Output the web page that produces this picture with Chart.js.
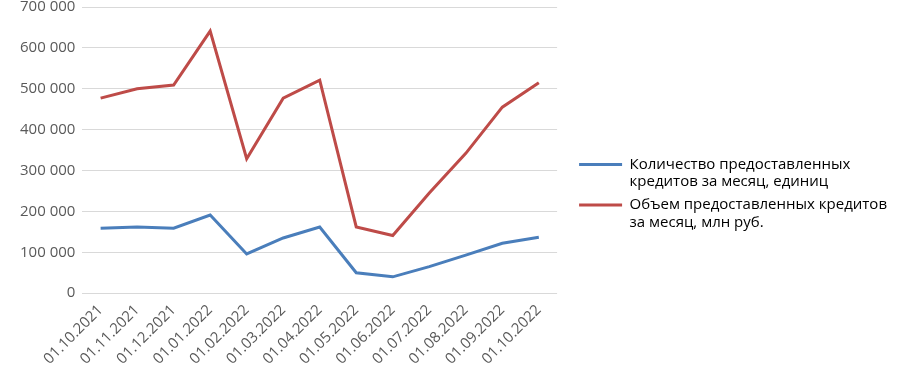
<!DOCTYPE html>
<html>
<head>
<meta charset="utf-8">
<script src="https://cdn.jsdelivr.net/npm/chart.js@4/dist/chart.umd.min.js"></script>
<style>
  html, body { margin: 0; padding: 0; background: #fff; }
  #wrap { width: 900px; height: 382px; }
</style>
</head>
<body>
<div id="wrap"><canvas id="credits-chart"></canvas></div>
<script>
// months
var months = ["01.10.2021", "01.11.2021", "01.12.2021", "01.01.2022", "01.02.2022", "01.03.2022", "01.04.2022",
    "01.05.2022", "01.06.2022", "01.07.2022", "01.08.2022", "01.09.2022", "01.10.2022"];

// количество кредитов, единиц
var countValues = [159000, 162000, 159000, 191000, 96000, 135000, 162000, 50000, 40000, 65000, 93000, 122000, 137000];
// объем кредитов, млн руб.
var volumeValues = [477000, 500000, 509000, 641000, 329000, 477000, 521000, 162000, 141000, 245000, 342000, 455000, 515000];

var countName = ["Количество предоставленных", "кредитов за месяц, единиц"];
var volumeName = ["Объем предоставленных кредитов", "за месяц, млн руб."];

var yTicks = [0, 100000, 200000, 300000, 400000, 500000, 600000, 700000];

function fmt(v) {
    return v.toString().replace(/\B(?=(\d{3})+(?!\d))/g, ' ');
}

Chart.defaults.font.family = "'Open Sans', 'Noto Sans', sans-serif";
Chart.defaults.color = '#595959';

new Chart(document.getElementById("credits-chart"), {
    type: 'line',
    data: {
        labels: months,
        datasets: [{
            label: countName.join(' '),
            data: countValues,
            borderColor: '#4A7EBB',
            backgroundColor: '#4A7EBB',
            borderWidth: 3,
            pointRadius: 0,
            tension: 0,
            fill: false
        }, {
            label: volumeName.join(' '),
            data: volumeValues,
            borderColor: '#BE4B48',
            backgroundColor: '#BE4B48',
            borderWidth: 3,
            pointRadius: 0,
            tension: 0,
            fill: false
        }]
    },
    options: {
        responsive: true,
        maintainAspectRatio: false,
        animation: false,
        layout: { padding: { left: 13, right: 3, top: 7, bottom: 0 } },
        plugins: {
            tooltip: { enabled: false },
            legend: {
                position: 'right',
                align: 'center',
                maxWidth: 340,
                labels: {
                    boxWidth: 43,
                    boxHeight: 3,
                    padding: 6,
                    font: { size: 15, lineHeight: 1.15 },
                    color: '#595959',
                    generateLabels: function (chart) {
                        var names = [countName, volumeName];
                        return chart.data.datasets.map(function (ds, i) {
                            return {
                                text: names[i],
                                fillStyle: ds.borderColor,
                                strokeStyle: ds.borderColor,
                                lineWidth: 0,
                                hidden: false,
                                datasetIndex: i
                            };
                        });
                    }
                }
            }
        },
        scales: {
            x: {
                offset: true,
                grid: { display: false },
                border: { display: false },
                afterFit: function (axis) { axis.height += 14; },
                ticks: {
                    maxRotation: 45,
                    minRotation: 45,
                    autoSkip: false,
                    font: { size: 15 },
                    padding: 0
                }
            },
            y: {
                min: 0,
                max: 700000,
                afterBuildTicks: function (axis) {
                    axis.ticks = yTicks.map(function (v) { return { value: v }; });
                },
                afterFit: function (axis) { axis.paddingTop = 0; },
                grid: { color: '#D9D9D9', lineWidth: 1, drawTicks: false },
                border: { display: false },
                ticks: {
                    padding: 7,
                    font: { size: 15 },
                    callback: function (v) { return fmt(v); }
                }
            },
            // empty spacer between plot and legend
            gap: {
                type: 'linear',
                position: 'right',
                display: true,
                grid: { display: false },
                border: { display: false },
                ticks: { display: false },
                afterFit: function (axis) { axis.width = 16; }
            }
        }
    }
});
</script>
</body>
</html>
